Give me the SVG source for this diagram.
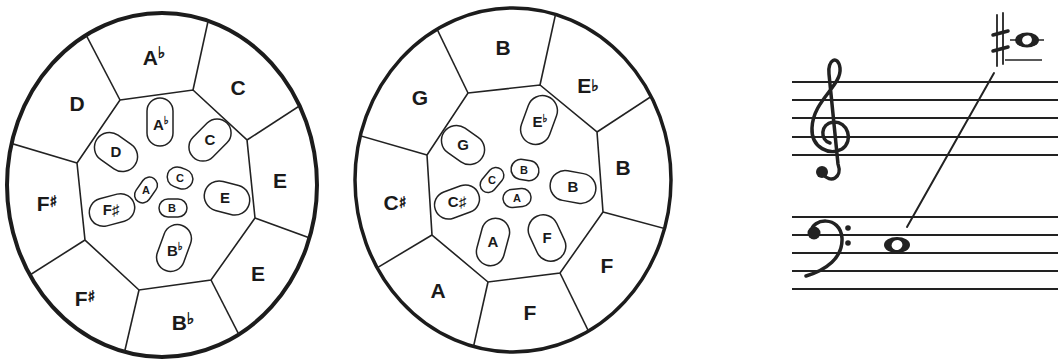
<svg xmlns="http://www.w3.org/2000/svg" width="1058" height="364" viewBox="0 0 1058 364">
<style>
.ring{fill:none;stroke:#1c1c1c;stroke-width:4}
.edge{fill:none;stroke:#222;stroke-width:1.6}
.oval{fill:none;stroke:#222;stroke-width:1.5}
.lbl{font-family:"Liberation Sans","DejaVu Sans",sans-serif;font-weight:bold;fill:#1a1a1a;text-anchor:middle}
.big{font-size:21px}
.mid{font-size:15px}
.sm{font-size:11px}
.acc{font-size:16px;font-family:"DejaVu Sans",sans-serif;font-weight:bold;stroke:#1a1a1a;stroke-width:0.6}
.accs{font-size:11px;font-family:"DejaVu Sans",sans-serif;font-weight:bold;stroke:#1a1a1a;stroke-width:0.4}
.staff{stroke:#222;stroke-width:2.2}
.ink{fill:none;stroke:#222;stroke-linecap:round}
</style>
<defs>
<clipPath id="clipL"><ellipse cx="162" cy="185" rx="155" ry="172"/></clipPath>
<clipPath id="clipM"><ellipse cx="513" cy="180" rx="158" ry="172"/></clipPath>
</defs>
<rect width="1058" height="364" fill="#fff"/>

<!-- LEFT WHEEL -->
<g id="wheel-left">
<ellipse class="ring" cx="162" cy="185" rx="155" ry="172"/>
<g id="connectors-left" clip-path="url(#clipL)">
<polygon class="edge" points="120,100 193,90 247,140 255,218 211,280 139,290 85,240 77,163"/>
<line class="edge" x1="120" y1="100" x2="72" y2="8"/>
<line class="edge" x1="193" y1="90" x2="214" y2="-6"/>
<line class="edge" x1="247" y1="140" x2="330" y2="86"/>
<line class="edge" x1="255" y1="218" x2="340" y2="249"/>
<line class="edge" x1="211" y1="280" x2="255" y2="366"/>
<line class="edge" x1="139" y1="290" x2="118" y2="380"/>
<line class="edge" x1="85" y1="240" x2="0" y2="294"/>
<line class="edge" x1="77" y1="163" x2="-10" y2="137"/>
</g>
<g id="L-out-Ab"><text class="lbl big" x="154" y="65">A<tspan class="acc" dy="-7">♭</tspan></text></g>
<g id="L-out-C"><text class="lbl big" x="238" y="95">C</text></g>
<g id="L-out-E1"><text class="lbl big" x="280" y="188">E</text></g>
<g id="L-out-E2"><text class="lbl big" x="258" y="281">E</text></g>
<g id="L-out-Bb"><text class="lbl big" x="183" y="330">B<tspan class="acc" dy="-6">♭</tspan></text></g>
<g id="L-out-Fs2"><text class="lbl big" x="85" y="306">F<tspan class="acc" dy="-4">♯</tspan></text></g>
<g id="L-out-Fs1"><text class="lbl big" x="47" y="211">F<tspan class="acc" dy="-4">♯</tspan></text></g>
<g id="L-out-D"><text class="lbl big" x="77" y="111">D</text></g>

<g id="L-in-Ab"><rect class="oval" x="-13" y="-24" width="26" height="48" rx="13" transform="translate(160,122)"/><text class="lbl mid" x="161" y="130">A<tspan class="accs" dy="-6">♭</tspan></text></g>
<g id="L-in-C"><rect class="oval" x="-24" y="-14" width="48" height="28" rx="14" transform="translate(210,140) rotate(-45)"/><text class="lbl mid" x="210" y="145">C</text></g>
<g id="L-in-E"><rect class="oval" x="-23" y="-15" width="46" height="30" rx="15" transform="translate(227,198) rotate(15)"/><text class="lbl mid" x="225" y="203">E</text></g>
<g id="L-in-Bb"><rect class="oval" x="-14" y="-24" width="28" height="48" rx="14" transform="translate(174,248) rotate(20)"/><text class="lbl mid" x="175" y="256">B<tspan class="accs" dy="-6">♭</tspan></text></g>
<g id="L-in-Fs"><rect class="oval" x="-23" y="-14" width="46" height="28" rx="14" transform="translate(112,210) rotate(-15)"/><text class="lbl mid" x="111" y="215">F♯</text></g>
<g id="L-in-D"><rect class="oval" x="-23" y="-15" width="46" height="30" rx="15" transform="translate(116,152) rotate(35)"/><text class="lbl mid" x="116" y="157">D</text></g>
<g id="L-in-A"><rect class="oval" x="-14" y="-8" width="28" height="16" rx="8" transform="translate(146,190) rotate(-55)"/><text class="lbl sm" x="146" y="194">A</text></g>
<g id="L-in-C2"><rect class="oval" x="-13" y="-10" width="26" height="20" rx="10" transform="translate(180,178) rotate(20)"/><text class="lbl sm" x="180" y="182">C</text></g>
<g id="L-in-B"><rect class="oval" x="-14" y="-9" width="28" height="18" rx="9" transform="translate(173,208)"/><text class="lbl sm" x="172" y="212">B</text></g>
</g>

<!-- MIDDLE WHEEL -->
<g id="wheel-middle">
<ellipse class="ring" cx="513" cy="180" rx="158" ry="172" style="stroke-width:3.5"/>
<g id="connectors-middle" clip-path="url(#clipM)">
<polygon class="edge" points="468,93 540,85 597,132 603,212 560,273 488,282 432,235 427,155"/>
<line class="edge" x1="468" y1="93" x2="420" y2="-6"/>
<line class="edge" x1="540" y1="85" x2="562" y2="-15"/>
<line class="edge" x1="597" y1="132" x2="690" y2="71"/>
<line class="edge" x1="603" y1="212" x2="700" y2="238"/>
<line class="edge" x1="560" y1="273" x2="610" y2="375"/>
<line class="edge" x1="488" y1="282" x2="466" y2="380"/>
<line class="edge" x1="432" y1="235" x2="340" y2="290"/>
<line class="edge" x1="427" y1="155" x2="330" y2="127"/>
</g>
<g id="M-out-B1"><text class="lbl big" x="503" y="55">B</text></g>
<g id="M-out-Eb"><text class="lbl big" x="588" y="93">E<tspan class="acc" dy="-2">♭</tspan></text></g>
<g id="M-out-B2"><text class="lbl big" x="623" y="175">B</text></g>
<g id="M-out-F1"><text class="lbl big" x="607" y="273">F</text></g>
<g id="M-out-F2"><text class="lbl big" x="530" y="320">F</text></g>
<g id="M-out-A"><text class="lbl big" x="438" y="298">A</text></g>
<g id="M-out-Cs"><text class="lbl big" x="395" y="210">C<tspan class="acc" dy="-2">♯</tspan></text></g>
<g id="M-out-G"><text class="lbl big" x="420" y="105">G</text></g>

<g id="M-in-Eb"><rect class="oval" x="-15" y="-25" width="30" height="50" rx="15" transform="translate(539,120) rotate(20)"/><text class="lbl mid" x="540" y="127">E<tspan class="accs" dy="-5">♭</tspan></text></g>
<g id="M-in-G"><rect class="oval" x="-23" y="-15" width="46" height="30" rx="15" transform="translate(463,145) rotate(35)"/><text class="lbl mid" x="463" y="150">G</text></g>
<g id="M-in-B"><rect class="oval" x="-23" y="-15" width="46" height="30" rx="15" transform="translate(573,187) rotate(10)"/><text class="lbl mid" x="573" y="192">B</text></g>
<g id="M-in-F"><rect class="oval" x="-15" y="-24" width="30" height="48" rx="15" transform="translate(547,238) rotate(-25)"/><text class="lbl mid" x="547" y="243">F</text></g>
<g id="M-in-A"><rect class="oval" x="-14" y="-24" width="28" height="48" rx="14" transform="translate(493,242) rotate(15)"/><text class="lbl mid" x="493" y="247">A</text></g>
<g id="M-in-Cs"><rect class="oval" x="-23" y="-14" width="46" height="28" rx="14" transform="translate(457,202) rotate(-20)"/><text class="lbl mid" x="457" y="207">C♯</text></g>
<g id="M-in-C"><rect class="oval" x="-14" y="-8" width="28" height="16" rx="8" transform="translate(492,180) rotate(-50)"/><text class="lbl sm" x="492" y="184">C</text></g>
<g id="M-in-B2"><rect class="oval" x="-14" y="-10" width="28" height="20" rx="10" transform="translate(525,170) rotate(10)"/><text class="lbl sm" x="524" y="174">B</text></g>
<g id="M-in-A2"><rect class="oval" x="-14" y="-9" width="28" height="18" rx="9" transform="translate(517,198) rotate(-5)"/><text class="lbl sm" x="517" y="202">A</text></g>
</g>

<!-- STAFF -->
<g id="staff">
<g id="treble-staff">
<line class="staff" x1="792" y1="82" x2="1058" y2="82"/>
<line class="staff" x1="792" y1="100" x2="1058" y2="100"/>
<line class="staff" x1="792" y1="118" x2="1058" y2="118"/>
<line class="staff" x1="792" y1="137" x2="1058" y2="137"/>
<line class="staff" x1="792" y1="155" x2="1058" y2="155"/>
</g>
<g id="bass-staff">
<line class="staff" x1="792" y1="217" x2="1058" y2="217"/>
<line class="staff" x1="792" y1="235" x2="1058" y2="235"/>
<line class="staff" x1="792" y1="253" x2="1058" y2="253"/>
<line class="staff" x1="792" y1="271" x2="1058" y2="271"/>
<line class="staff" x1="792" y1="289" x2="1058" y2="289"/>
</g>
<g id="treble-clef">
<path class="ink" style="stroke-width:3.5" d="M 823 174 C 830 184, 843 178, 838 164 L 829 74 C 827 60, 838 54, 840 68 C 842 86, 813 100, 812 128 C 811 148, 830 156, 842 149 C 854 141, 848 121, 833 122 C 820 124, 820 140, 830 143"/>
<circle cx="822" cy="172" r="6" fill="#222"/>
</g>
<g id="bass-clef">
<path class="ink" style="stroke-width:3.5" d="M 811 232 C 812 218, 840 215, 842 238 C 843 258, 826 270, 806 276"/>
<circle cx="814" cy="233" r="6.5" fill="#222"/>
<circle cx="848" cy="228" r="2.8" fill="#222"/>
<circle cx="848" cy="243" r="2.8" fill="#222"/>
</g>
<g id="note-low">
<ellipse cx="897" cy="245" rx="13" ry="8" fill="#222"/>
<ellipse cx="897" cy="245" rx="5.5" ry="5" fill="#fff" transform="rotate(-25 897 245)"/>
</g>
<g id="note-high">
<line class="staff" x1="1005" y1="60" x2="1042" y2="60" style="stroke-width:1.6"/>
<line class="staff" x1="1010" y1="40" x2="1044" y2="40" style="stroke-width:1.6"/>
<ellipse cx="1027" cy="40" rx="12" ry="7.5" fill="#222"/>
<ellipse cx="1027" cy="40" rx="5" ry="4.5" fill="#fff" transform="rotate(-25 1027 40)"/>
<line class="ink" x1="997" y1="15" x2="997" y2="66" style="stroke-width:1.8"/>
<line class="ink" x1="1003" y1="13" x2="1003" y2="64" style="stroke-width:1.8"/>
<line class="ink" x1="993" y1="35" x2="1008" y2="31" style="stroke-width:3.5"/>
<line class="ink" x1="993" y1="51" x2="1008" y2="47" style="stroke-width:3.5"/>
</g>
<g id="connector-notes">
<line class="ink" x1="994" y1="73" x2="907" y2="227" style="stroke-width:2"/>
</g>
</g>
</svg>
